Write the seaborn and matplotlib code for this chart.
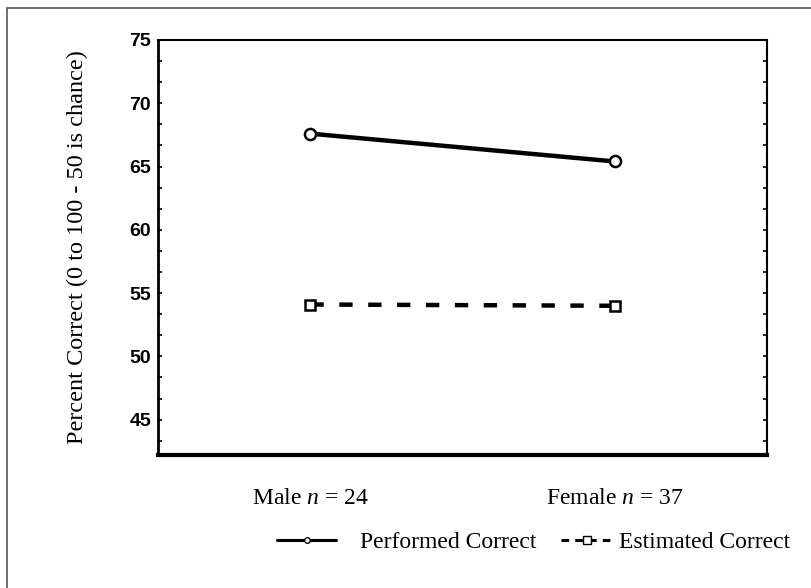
import matplotlib
matplotlib.use("Agg")
import matplotlib.pyplot as plt
from matplotlib.lines import Line2D
from matplotlib.patches import Rectangle
from matplotlib.ticker import MultipleLocator
import seaborn as sns
import pandas as pd

groups = ["Male $n$ = 24", "Female $n$ = 37"]
performed = [67.6, 65.4]
estimated = [54.1, 54.0]
series_names = ["Performed Correct", "Estimated Correct"]
yticks = [45, 50, 55, 60, 65, 70, 75]

sns.set_style("white")
plt.rcParams['mathtext.fontset'] = 'custom'
plt.rcParams['mathtext.rm'] = 'Liberation Serif'
plt.rcParams['mathtext.it'] = 'Liberation Serif:italic'
plt.rcParams['text.color'] = 'black'
plt.rcParams['axes.labelcolor'] = 'black'
plt.rcParams['xtick.color'] = 'black'
plt.rcParams['ytick.color'] = 'black'

df = pd.DataFrame({
    "group": list(range(len(groups))) * 2,
    "value": performed + estimated,
    "series": [series_names[0]] * len(groups) + [series_names[1]] * len(groups),
})

fig = plt.figure(figsize=(8.11, 5.88), dpi=100)
ax = fig.add_axes([0.195, 0.226, 0.751, 0.706])

sns.lineplot(data=df[df.series == series_names[0]], x="group", y="value", ax=ax,
             color="black", lw=3.2, marker="o", markersize=8, markerfacecolor="white",
             markeredgecolor="black", markeredgewidth=1.8, legend=False)
sns.lineplot(data=df[df.series == series_names[1]], x="group", y="value", ax=ax,
             color="black", lw=3.2, marker="s", markersize=7, markerfacecolor="white",
             markeredgecolor="black", markeredgewidth=1.8, legend=False)
ax.lines[1].set_dashes([3, 3.5])

ax.set_xlim(-0.5, 1.5)
ax.set_ylim(42.2, 75)
ax.set_xticks(range(len(groups)))
ax.set_xticklabels(groups, family="Liberation Serif", fontsize=17, color="black")
ax.set_yticks(yticks)
ax.set_yticklabels([str(t) for t in yticks], family="Liberation Sans",
                   fontweight="bold", fontsize=14, color="black")
ax.yaxis.set_minor_locator(MultipleLocator(5 / 3))
ax.tick_params(axis="y", which="both", direction="in", left=True, right=True,
               length=3, width=1.2, pad=5, colors="black")
ax.tick_params(axis="x", length=0, pad=24, colors="black")
ax.set_xlabel("")
ax.set_ylabel("Percent Correct (0 to 100 - 50 is chance)", family="Liberation Serif",
              fontsize=17.5, labelpad=30, color="black")

for s in ["top", "right"]:
    ax.spines[s].set_linewidth(1.5)
    ax.spines[s].set_color("black")
ax.spines["left"].set_linewidth(2.0)
ax.spines["left"].set_color("black")
ax.spines["bottom"].set_linewidth(3.0)
ax.spines["bottom"].set_color("black")

h_perf = Line2D([], [], color="black", lw=2.2, marker="o", markersize=4,
                markerfacecolor="white", markeredgecolor="black")
h_est = Line2D([], [], color="black", lw=2.2, linestyle=(0, (2.5, 2)), marker="s",
               markersize=6, markerfacecolor="white", markeredgecolor="black")
common = dict(frameon=False, prop={"family": "Liberation Serif", "size": 17},
              borderpad=0, borderaxespad=0, loc="center left", labelcolor="black")
fig.legend([h_perf], [series_names[0]], bbox_to_anchor=(277 / 811, 0.078),
           handlelength=2.5, handletextpad=1.0, **common)
fig.legend([h_est], [series_names[1]], bbox_to_anchor=(561 / 811, 0.078),
           handlelength=2.2, handletextpad=0.25, **common)

fig.patches.append(Rectangle((0.009, -0.05), 1.2, 0.05 + 0.987, transform=fig.transFigure,
                             fill=False, edgecolor="#555555", lw=1.2))

fig.savefig("out.png", dpi=100, facecolor="white")
